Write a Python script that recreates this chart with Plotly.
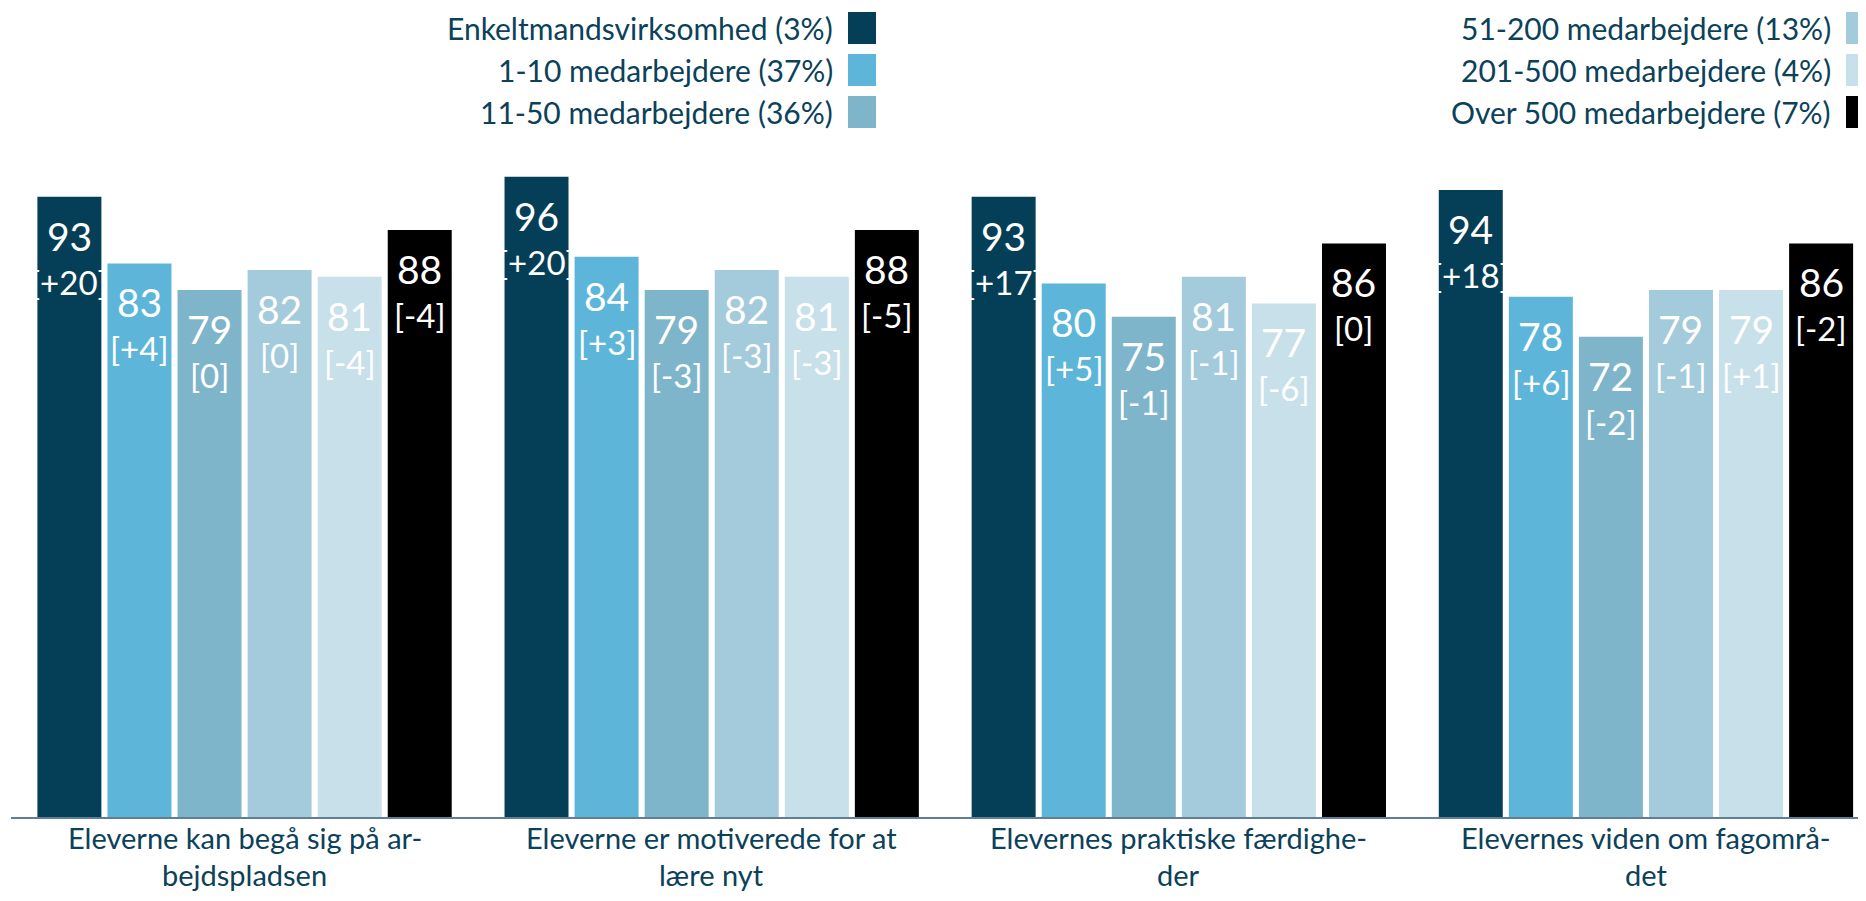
import plotly.graph_objects as go

# ---------------- data ----------------
category_line1 = [
    "Eleverne kan begå sig på ar-",
    "Eleverne er motiverede for at",
    "Elevernes praktiske færdighe-",
    "Elevernes viden om fagområ-",
]
category_line2 = ["bejdspladsen", "lære nyt", "der", "det"]
series_names = [
    "Enkeltmandsvirksomhed (3%)",
    "1-10 medarbejdere (37%)",
    "11-50 medarbejdere (36%)",
    "51-200 medarbejdere (13%)",
    "201-500 medarbejdere (4%)",
    "Over 500 medarbejdere (7%)",
]
colors = ["#043F57", "#5EB5DA", "#7FB5CB", "#A3CBDB", "#C8E0EA", "#000000"]

values_enkelt = [93, 96, 93, 94]
values_1_10 = [83, 84, 80, 78]
values_11_50 = [79, 79, 75, 72]
values_51_200 = [82, 82, 81, 79]
values_201_500 = [81, 81, 77, 79]
values_500 = [88, 88, 86, 86]

diff_enkelt = ["+20", "+20", "+17", "+18"]
diff_1_10 = ["+4", "+3", "+5", "+6"]
diff_11_50 = ["0", "-3", "-1", "-2"]
diff_51_200 = ["0", "-3", "-1", "-1"]
diff_201_500 = ["-4", "-3", "-6", "+1"]
diff_500 = ["-4", "-5", "0", "-2"]

all_values = [values_enkelt, values_1_10, values_11_50, values_51_200, values_201_500, values_500]
all_diffs = [diff_enkelt, diff_1_10, diff_11_50, diff_51_200, diff_201_500, diff_500]

# ---------------- styling ----------------
FONT = "Lato, DejaVu Sans, sans-serif"
TEXT_COLOR = "#0B4159"
OFF = 8                      # page body margin
W, H = 1866 - OFF, 901 - 2 * OFF
ML, MR, MT, MB = 11 - OFF, 0, 150 - OFF, H - (817 - OFF)
PITCH = 0.15
BAR_W = 0.137
n_cat = len(category_line1)

fig = go.Figure()
annotations = []
n = len(series_names)
for i, (name, col, vals, diffs) in enumerate(zip(series_names, colors, all_values, all_diffs)):
    xs = [g + (i - (n - 1) / 2) * PITCH for g in range(n_cat)]
    fig.add_trace(go.Bar(
        x=xs, y=vals, name=name, width=BAR_W,
        marker=dict(color=col, line=dict(width=0)),
        showlegend=False, hoverinfo="y",
    ))
    for x, v, d in zip(xs, vals, diffs):
        annotations.append(dict(
            x=x, y=v, xref="x", yref="y", text=str(v), showarrow=False,
            yanchor="top", yshift=-14, font=dict(family=FONT, size=39, color="white"),
        ))
        annotations.append(dict(
            x=x, y=v, xref="x", yref="y", text="[" + d + "]", showarrow=False,
            yanchor="top", yshift=-63, font=dict(family=FONT, size=33, color="white"),
        ))

# category labels (two lines, tight spacing)
for g, (l1, l2) in enumerate(zip(category_line1, category_line2)):
    for txt, ys in ((l1, -1), (l2, -38)):
        annotations.append(dict(
            x=g, y=0, xref="x", yref="paper", text=txt, showarrow=False,
            yanchor="top", yshift=ys, font=dict(family=FONT, size=29, color=TEXT_COLOR),
        ))

# manual legend (text left of swatch), positions given in page pixels
plot_w = W - ML - MR
plot_h = H - MT - MB


def px_x(px):
    return (px - OFF - ML) / plot_w


def px_y(py):
    return (H - MB - (py - OFF)) / plot_h


shapes = []
row_centers = [28, 70, 112]
col_swatch_left = [848, 1846]
for i, (name, col) in enumerate(zip(series_names, colors)):
    c, r = divmod(i, 3)
    sx = col_swatch_left[c]
    cy = row_centers[r]
    shapes.append(dict(
        type="rect", xref="paper", yref="paper",
        x0=px_x(sx), x1=px_x(sx + 28), y0=px_y(cy + 16), y1=px_y(cy - 16),
        fillcolor=col, line=dict(width=0),
    ))
    annotations.append(dict(
        x=px_x(sx - 13), y=px_y(cy), xref="paper", yref="paper", text=name,
        showarrow=False, xanchor="right", yanchor="middle",
        font=dict(family=FONT, size=30, color=TEXT_COLOR),
    ))

fig.update_layout(
    width=W, height=H,
    margin=dict(l=ML, r=MR, t=MT, b=MB),
    paper_bgcolor="white", plot_bgcolor="white",
    barmode="overlay",
    xaxis=dict(
        range=[-0.5, 3.5 - 13.5 / 467], showticklabels=False,
        showgrid=False, zeroline=False,
        showline=True, linecolor="#5F7F96", linewidth=2, ticks="",
    ),
    yaxis=dict(range=[0, 100], visible=False, showgrid=False, zeroline=False),
    annotations=annotations,
    shapes=shapes,
)

fig.write_html("out.html")
